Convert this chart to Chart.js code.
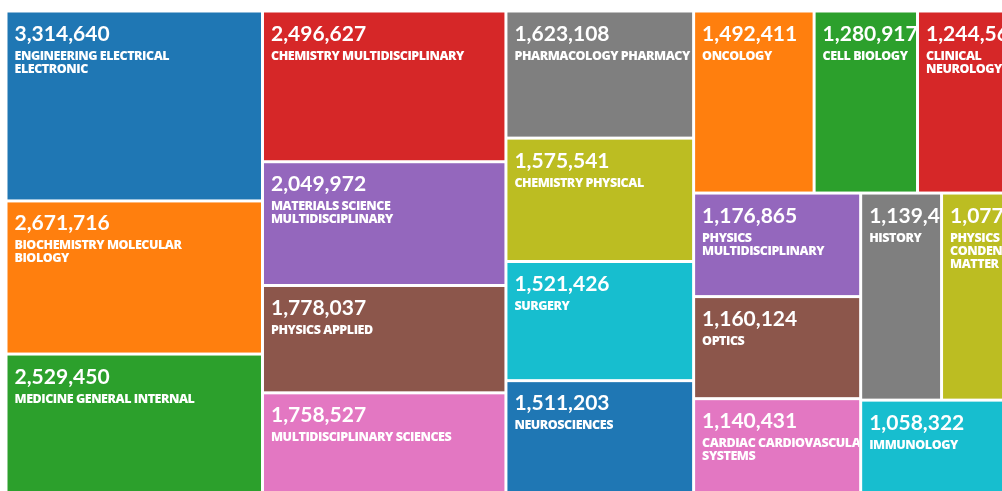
<!DOCTYPE html>
<html>
<head>
<meta charset="utf-8">
<title>Top research areas</title>
<script src="https://cdn.jsdelivr.net/npm/chart.js@4.4.0/dist/chart.umd.min.js"></script>
<style>
  html, body { margin: 0; padding: 0; background: #fff; overflow: hidden; width: 1002px; height: 491px; }
  #treemap { position: absolute; left: 6px; top: 11px; }
</style>
</head>
<body>
<canvas id="treemap" width="1012" height="488"></canvas>
<script>
// research areas, largest first
var categories = [
    'ENGINEERING ELECTRICAL ELECTRONIC',
    'BIOCHEMISTRY MOLECULAR BIOLOGY',
    'MEDICINE GENERAL INTERNAL',
    'CHEMISTRY MULTIDISCIPLINARY',
    'MATERIALS SCIENCE MULTIDISCIPLINARY',
    'PHYSICS APPLIED',
    'MULTIDISCIPLINARY SCIENCES',
    'PHARMACOLOGY PHARMACY',
    'CHEMISTRY PHYSICAL',
    'SURGERY',
    'NEUROSCIENCES',
    'ONCOLOGY',
    'CELL BIOLOGY',
    'CLINICAL NEUROLOGY',
    'PHYSICS MULTIDISCIPLINARY',
    'OPTICS',
    'CARDIAC CARDIOVASCULAR SYSTEMS',
    'HISTORY',
    'PHYSICS CONDENSED MATTER',
    'IMMUNOLOGY'
];

var values = [
    3314640, 2671716, 2529450, 2496627, 2049972,
    1778037, 1758527, 1623108, 1575541, 1521426,
    1511203, 1492411, 1280917, 1244562, 1176865,
    1160124, 1140431, 1139453, 1077104, 1058322
];

var palette = ['#1f77b4', '#ff7f0e', '#2ca02c', '#d62728', '#9467bd',
               '#8c564b', '#e377c2', '#7f7f7f', '#bcbd22', '#17becf'];

// squarified layout (same row rule as d3.treemapSquarify)
function squarify(vals, x0, y0, x1, y1) {
    var ratio = (1 + Math.sqrt(5)) / 2;
    var out = [];
    var n = vals.length, i0 = 0;
    var value = vals.reduce(function (a, b) { return a + b; }, 0);

    while (i0 < n) {
        var dx = x1 - x0, dy = y1 - y0;
        var i1 = i0;
        var sumValue = vals[i1++];
        var minValue = sumValue, maxValue = sumValue;
        var alpha = Math.max(dy / dx, dx / dy) / (value * ratio);
        var beta = sumValue * sumValue * alpha;
        var minRatio = Math.max(maxValue / beta, beta / minValue);

        for (; i1 < n; ++i1) {
            var v = vals[i1];
            sumValue += v;
            if (v < minValue) minValue = v;
            if (v > maxValue) maxValue = v;
            beta = sumValue * sumValue * alpha;
            var newRatio = Math.max(maxValue / beta, beta / minValue);
            if (newRatio > minRatio) { sumValue -= v; break; }
            minRatio = newRatio;
        }

        var i;
        if (dx < dy) {
            // row across the top
            var yEnd = y0 + dy * sumValue / value, x = x0;
            for (i = i0; i < i1; i++) {
                var w = dx * vals[i] / sumValue;
                out[i] = { x0: x, y0: y0, x1: x + w, y1: yEnd };
                x += w;
            }
            y0 = yEnd;
        } else {
            // column down the left side
            var xEnd = x0 + dx * sumValue / value, y = y0;
            for (i = i0; i < i1; i++) {
                var h = dy * vals[i] / sumValue;
                out[i] = { x0: x0, y0: y, x1: xEnd, y1: y + h };
                y += h;
            }
            x0 = xEnd;
        }
        value -= sumValue;
        i0 = i1;
    }
    return out;
}

function wrapWords(ctx, text, maxWidth) {
    var words = text.split(' ');
    var lines = [];
    var line = '';
    words.forEach(function (word) {
        var test = line ? line + ' ' + word : word;
        if (line && ctx.measureText(test).width > maxWidth) {
            lines.push(line);
            line = word;
        } else {
            line = test;
        }
    });
    if (line) lines.push(line);
    return lines;
}

var gap = 1.5;

var treemapCells = {
    id: 'treemapCells',
    beforeDatasetsDraw: function (chart) {
        var ctx = chart.ctx;
        var area = chart.chartArea;
        var xs = chart.scales.x, ys = chart.scales.y;
        var W = area.right - area.left, H = area.bottom - area.top;
        var cells = squarify(values, 0, 0, W, H);

        cells.forEach(function (c, i) {
            var left = xs.getPixelForValue(c.x0 / W) + gap;
            var right = xs.getPixelForValue(c.x1 / W) - gap;
            var top = ys.getPixelForValue(c.y0 / H) + gap;
            var bottom = ys.getPixelForValue(c.y1 / H) - gap;

            ctx.save();
            ctx.fillStyle = palette[i % palette.length];
            ctx.fillRect(left, top, right - left, bottom - top);

            ctx.beginPath();
            ctx.rect(left, top, right - left, bottom - top);
            ctx.clip();

            ctx.fillStyle = '#ffffff';
            ctx.textBaseline = 'alphabetic';
            ctx.font = 'bold 21px Lato';
            ctx.letterSpacing = '0px';
            ctx.fillText(values[i].toLocaleString('en-US'), left + 7, top + 28);

            // labels may run up to the cell edge before wrapping
            ctx.font = '800 12.5px "Open Sans"';
            ctx.letterSpacing = '-0.45px';
            var lines = wrapWords(ctx, categories[i], Math.min(right - left + 8, 215));
            lines.forEach(function (ln, k) {
                ctx.fillText(ln, left + 7, top + 47 + k * 13);
            });
            ctx.restore();
        });
    }
};

var chart = new Chart(document.getElementById('treemap'), {
    type: 'scatter',
    data: { datasets: [{ data: [], pointRadius: 0 }] },
    options: {
        responsive: false,
        animation: false,
        events: [],
        layout: { padding: 0 },
        scales: {
            x: { type: 'linear', min: 0, max: 1, display: false },
            y: { type: 'linear', min: 0, max: 1, reverse: true, display: false }
        },
        plugins: {
            legend: { display: false },
            tooltip: { enabled: false }
        }
    },
    plugins: [treemapCells]
});
</script>
</body>
</html>
